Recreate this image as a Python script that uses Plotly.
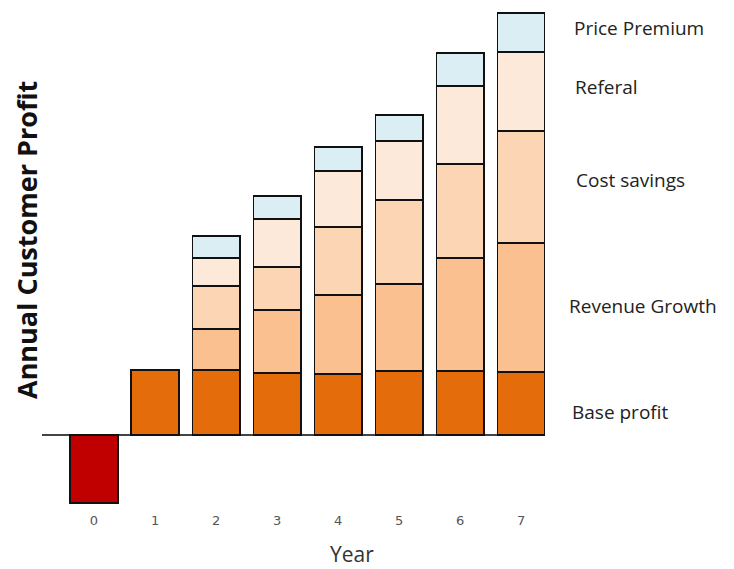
import plotly.graph_objects as go

years = [0, 1, 2, 3, 4, 5, 6, 7]
tick_labels = ["0", "1", "2", "3", "4", "5", "6", "7"]
base_profit = [-68, 65, 65, 62, 61, 64, 64, 63]
revenue_growth = [0, 0, 41, 63, 79, 87, 113, 129]
cost_savings = [0, 0, 43, 43, 68, 84, 94, 112]
referral = [0, 0, 28, 48, 56, 59, 78, 79]
price_premium = [0, 0, 22, 23, 24, 26, 33, 39]
series_names = ["Base profit", "Revenue Growth", "Cost savings", "Referal", "Price Premium"]

base_colors = ["#C00000"] + ["#E46C0A"] * 7
colors = ["#E46C0A", "#FAC090", "#FCD5B5", "#FDE9D9", "#DBEEF3"]

fig = go.Figure()
all_series = [base_profit, revenue_growth, cost_savings, referral, price_premium]
for i, (name, vals) in enumerate(zip(series_names, all_series)):
    xs = [x for x, v in zip(years, vals) if v != 0]
    ys = [v for v in vals if v != 0]
    col = [base_colors[years.index(x)] for x in xs] if i == 0 else colors[i]
    fig.add_trace(go.Bar(
        x=xs, y=ys, name=name,
        marker=dict(color=col, line=dict(color="#111111", width=1.5)),
        width=0.78,
    ))

# right-side labels, aligned to approximate positions
label_y = {"Price Premium": 28, "Referal": 87, "Cost savings": 180,
           "Revenue Growth": 306, "Base profit": 412}
label_x = {"Price Premium": 572, "Referal": 573, "Cost savings": 574,
           "Revenue Growth": 567, "Base profit": 570}

L, R_edge, T, B_edge = 42, 545, 10, 505
W = R_edge - L
H = B_edge - T

annotations = []
for name in series_names:
    annotations.append(dict(
        text=name, xref="paper", yref="paper",
        x=(label_x[name] - L) / W, y=(B_edge - label_y[name]) / H,
        xanchor="left", yanchor="middle", showarrow=False,
        font=dict(family="Open Sans", size=19, color="#222222"),
    ))
annotations.append(dict(
    text="<b>Annual Customer Profit</b>", xref="paper", yref="paper",
    x=(26 - L) / W, y=(B_edge - 240) / H, textangle=-90,
    xanchor="center", yanchor="middle", showarrow=False,
    font=dict(family="Open Sans", size=27, color="#111111"),
))
annotations.append(dict(
    text="Year", xref="paper", yref="paper",
    x=(352 - L) / W, y=(B_edge - 554) / H,
    xanchor="center", yanchor="middle", showarrow=False,
    font=dict(family="Open Sans", size=21, color="#333333"),
))

fig.update_layout(
    barmode="stack",
    width=734, height=569,
    margin=dict(l=L, r=734 - R_edge, t=T, b=569 - B_edge),
    plot_bgcolor="white", paper_bgcolor="white",
    showlegend=False,
    bargap=0.2,
    xaxis=dict(
        range=[-0.852, 7.39], tickmode="array", tickvals=years, ticktext=tick_labels,
        showgrid=False, zeroline=False, showline=False,
        tickfont=dict(family="DejaVu Sans", size=13, color="#555555"),
        ticks="outside", ticklen=3, tickcolor="rgba(0,0,0,0)",
    ),
    yaxis=dict(
        range=[-70, 495 - 70], showticklabels=False, showgrid=False,
        zeroline=True, zerolinecolor="#444444", zerolinewidth=2, showline=False,
    ),
    annotations=annotations,
)

fig.write_html("out.html")
